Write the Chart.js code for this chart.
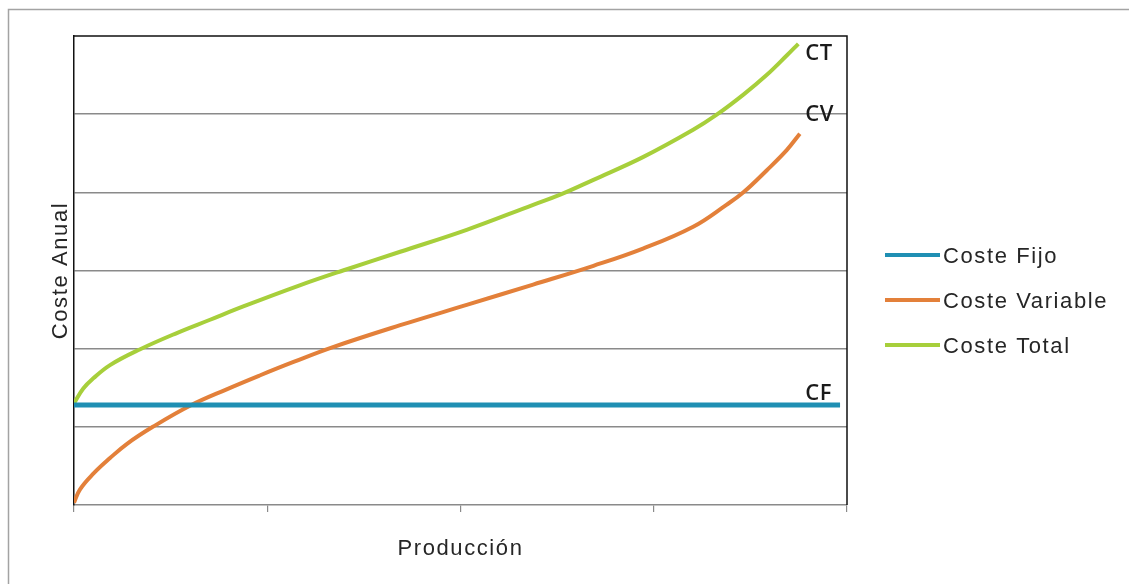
<!DOCTYPE html>
<html>
<head>
<meta charset="utf-8">
<title>Costes de producción</title>
<script src="https://cdn.jsdelivr.net/npm/chart.js@4/dist/chart.umd.min.js"></script>
<style>
  html, body { margin: 0; padding: 0; background: #ffffff; }
  #wrap { width: 1129px; height: 584px; }
</style>
</head>
<body>
<div id="wrap"><canvas id="costes" width="1129" height="584"></canvas></div>
<script>
// Producción (0–100) y coste anual (unidades relativas) de cada curva
const produccionCF = [0, 99.1];
const costeFijo    = [1.28, 1.28];

const produccionCV  = [0, 0.78, 2.5, 4.66, 6.82, 10.2, 15.0, 19.75, 24.1, 28.4, 33.5, 42.2, 50.8, 59.4, 67.2, 73.6, 80.1, 84.4, 86.6, 89.6, 92.2, 93.9];
const costeVariable = [0.03, 0.20, 0.40, 0.60, 0.78, 1.0, 1.27, 1.48, 1.66, 1.83, 2.02, 2.30, 2.56, 2.82, 3.06, 3.28, 3.56, 3.84, 4.0, 4.28, 4.54, 4.75];

const produccionCT = [0, 1.2, 2.5, 4.66, 8.5, 13.3, 17.6, 21.9, 29.2, 34.8, 42.2, 50.8, 59.4, 62.9, 67.2, 73.6, 80.1, 83.1, 86.6, 89.6, 92.2, 93.7];
const costeTotal   = [1.30, 1.49, 1.62, 1.79, 1.99, 2.2, 2.37, 2.54, 2.81, 3.0, 3.24, 3.52, 3.84, 3.97, 4.16, 4.45, 4.80, 4.99, 5.25, 5.50, 5.75, 5.90];

const nombresSeries = ['Coste Fijo', 'Coste Variable', 'Coste Total'];
const etiquetasCurva = ['CT', 'CV', 'CF'];
const ticksProduccion = [0, 25, 50, 75, 100];
const ticksCoste = [0, 1, 2, 3, 4, 5, 6];

const pares = (xs, ys) => xs.map((x, i) => ({ x, y: ys[i] }));

const textFont = '22px "Liberation Sans", Arial, sans-serif';
const textColor = '#262626';
const gridColor = '#8a8a8a';

// Marco exterior, bordes superior/derecho del área de trazado
const marcoPlugin = {
  id: 'marco',
  beforeDraw(chart) {
    const ctx = chart.ctx;
    ctx.save();
    ctx.strokeStyle = '#a3a3a3';
    ctx.lineWidth = 1.5;
    ctx.beginPath();
    ctx.moveTo(8.5, chart.height);
    ctx.lineTo(8.5, 9.5);
    ctx.lineTo(chart.width, 9.5);
    ctx.stroke();
    ctx.restore();
  },
  afterDraw(chart) {
    const { ctx, chartArea: a } = chart;
    ctx.save();
    ctx.strokeStyle = '#111111';
    ctx.lineWidth = 1.5;
    ctx.beginPath();
    ctx.moveTo(a.left, a.top);
    ctx.lineTo(a.right, a.top);
    ctx.lineTo(a.right, a.bottom);
    ctx.stroke();
    ctx.restore();
  }
};

// Títulos de ejes, leyenda y etiquetas al final de cada curva
const textosPlugin = {
  id: 'textos',
  afterDraw(chart, args, opts) {
    const { ctx, chartArea: a, scales } = chart;
    ctx.save();
    ctx.fillStyle = textColor;
    ctx.font = textFont;
    ctx.letterSpacing = '1.6px';

    // eje X
    ctx.textAlign = 'center';
    ctx.textBaseline = 'alphabetic';
    ctx.fillText(opts.tituloX, (a.left + a.right) / 2, 555);

    // eje Y (girado)
    ctx.save();
    ctx.translate(66.5, (a.top + a.bottom) / 2);
    ctx.rotate(-Math.PI / 2);
    ctx.fillText(opts.tituloY, 0, 0);
    ctx.restore();

    // leyenda
    const x0 = a.right + 38, x1 = a.right + 93;
    chart.data.datasets.forEach((ds, i) => {
      const y = 255 + i * 45;
      ctx.strokeStyle = ds.borderColor;
      ctx.lineWidth = 4;
      ctx.lineCap = 'butt';
      ctx.beginPath();
      ctx.moveTo(x0, y);
      ctx.lineTo(x1, y);
      ctx.stroke();
      ctx.textAlign = 'left';
      ctx.textBaseline = 'alphabetic';
      ctx.fillText(ds.label, x1 + 3, y + 8);
    });

    // etiquetas de curva
    ctx.font = '600 22px "Open Sans", "Noto Sans", sans-serif';
    ctx.letterSpacing = '0.5px';
    ctx.fillStyle = '#1a1a1a';
    ctx.textAlign = 'left';
    opts.etiquetas.forEach(e => {
      ctx.fillText(e.texto, scales.x.getPixelForValue(e.x), scales.y.getPixelForValue(e.y));
    });
    ctx.restore();
  }
};

new Chart(document.getElementById('costes'), {
  type: 'line',
  data: {
    datasets: [
      { label: nombresSeries[0], data: pares(produccionCF, costeFijo), borderColor: '#1f8fb3', borderWidth: 5 },
      { label: nombresSeries[1], data: pares(produccionCV, costeVariable), borderColor: '#e3803a', borderWidth: 4, tension: 0.4 },
      { label: nombresSeries[2], data: pares(produccionCT, costeTotal), borderColor: '#a7cf3b', borderWidth: 4, tension: 0.4 }
    ]
  },
  options: {
    responsive: false,
    devicePixelRatio: 1,
    animation: false,
    events: [],
    layout: { padding: { left: 0, top: 36, right: 282, bottom: 0 } },
    elements: { point: { radius: 0 }, line: { borderCapStyle: 'butt', fill: false } },
    scales: {
      x: {
        type: 'linear',
        min: ticksProduccion[0],
        max: ticksProduccion[ticksProduccion.length - 1],
        afterBuildTicks(scale) { scale.ticks = ticksProduccion.map(v => ({ value: v })); },
        afterFit(scale) { scale.height = 79; },
        ticks: { display: false },
        grid: { drawOnChartArea: false, drawTicks: true, tickLength: 7, color: gridColor, lineWidth: 1.2 },
        border: { display: true, color: gridColor, width: 1.5 }
      },
      y: {
        min: ticksCoste[0],
        max: ticksCoste[ticksCoste.length - 1],
        afterBuildTicks(scale) { scale.ticks = ticksCoste.map(v => ({ value: v })); },
        afterFit(scale) { scale.width = 74; },
        ticks: { display: false },
        grid: {
          drawTicks: false,
          color: c => (c.tick && (c.tick.value === 0 || c.tick.value === 6)) ? 'rgba(0,0,0,0)' : gridColor,
          lineWidth: 1.5
        },
        border: { display: true, color: '#111111', width: 1.5 }
      }
    },
    plugins: {
      legend: { display: false },
      tooltip: { enabled: false },
      textos: {
        tituloX: 'Producción',
        tituloY: 'Coste Anual',
        etiquetas: [
          { texto: etiquetasCurva[0], x: 94.6, y: 5.69 },
          { texto: etiquetasCurva[1], x: 94.6, y: 4.91 },
          { texto: etiquetasCurva[2], x: 94.6, y: 1.343 }
        ]
      }
    }
  },
  plugins: [marcoPlugin, textosPlugin]
});
</script>
</body>
</html>
